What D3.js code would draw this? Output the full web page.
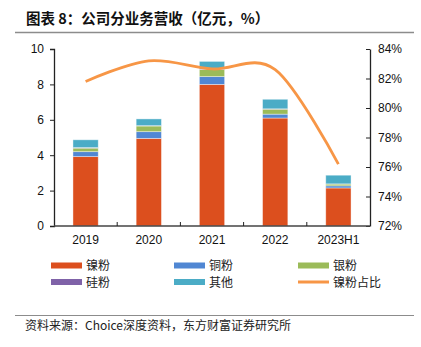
<!DOCTYPE html>
<html>
<head>
<meta charset="utf-8">
<script src="https://cdn.jsdelivr.net/npm/d3@7"></script>
<style>
  body { margin: 0; background: #fff; }
  text { font-family: "Liberation Sans", Arial, sans-serif; }
  .cjk { font-family: "Noto Sans CJK SC", sans-serif; }
</style>
</head>
<body>
<div id="chart"></div>
<script>
// data
var years = ['2019', '2020', '2021', '2022', '2023H1'];
var nickel = [3.92, 4.95, 8.00, 6.10, 2.15];
var copper = [0.28, 0.38, 0.44, 0.22, 0.12];
var silver = [0.20, 0.32, 0.40, 0.28, 0.10];
var silicon = [0.03, 0.02, 0.03, 0.02, 0.01];
var other = [0.44, 0.38, 0.43, 0.54, 0.49];
var nickelShare = [81.8, 83.2, 82.65, 82.6, 76.2];

var leftTicks = [0, 2, 4, 6, 8, 10];
var rightTicks = [72, 74, 76, 78, 80, 82, 84];

var seriesNames = ['镍粉', '铜粉', '银粉', '硅粉', '其他'];
var seriesData = [nickel, copper, silver, silicon, other];
var colors = ['#DC4F1E', '#5087D3', '#9BBB59', '#7F62A8', '#4BACC6'];
var lineColor = '#F79646';

var W = 421, H = 347;
var svg = d3.select('#chart').append('svg')
	.attr('width', W)
	.attr('height', H);

// title + rules
svg.append('text')
	.attr('class', 'cjk')
	.attr('x', 26).attr('y', 24)
	.style('font-size', '14.5px')
	.style('font-weight', 'bold')
	.attr('fill', '#111')
	.text('图表 8：公司分业务营收（亿元，%）');
svg.append('line')
	.attr('x1', 15).attr('x2', 414).attr('y1', 32.5).attr('y2', 32.5)
	.attr('stroke', '#8c8c8c').attr('stroke-width', 1.5);

// plot box (top is a window property, so use other names)
var pLeft = 54, pRight = 370, pTop = 49, pBottom = 226;

var x = d3.scaleBand().domain(years).range([pLeft, pRight]).paddingInner(0.6).paddingOuter(0.3);
var xb = d3.scaleBand().domain(years).range([pLeft, pRight]);
var y = d3.scaleLinear().domain([0, 10]).range([pBottom, pTop]);
var y2 = d3.scaleLinear().domain([72, 84]).range([pBottom, pTop]);

// stacked bars
var rows = years.map(function(yr, i) {
	var r = { year: yr };
	seriesNames.forEach(function(n, k) { r[n] = seriesData[k][i]; });
	return r;
});
var stacked = d3.stack().keys(seriesNames)(rows);

svg.selectAll('g.layer')
	.data(stacked)
	.enter()
	.append('g')
	.attr('class', 'layer')
	.attr('fill', function(d, i) { return colors[i]; })
	.selectAll('rect')
	.data(function(d) { return d; })
	.enter()
	.append('rect')
	.attr('x', function(d) { return x(d.data.year); })
	.attr('width', x.bandwidth())
	.attr('y', function(d) { return y(d[1]); })
	.attr('height', function(d) { return y(d[0]) - y(d[1]); })
	.attr('stroke', '#ffffff')
	.attr('stroke-opacity', 0.5)
	.attr('stroke-width', 0.8);

// left axis
var yAxis = svg.append('g')
	.attr('transform', 'translate(' + pLeft + ',0)')
	.call(d3.axisLeft(y).tickValues(leftTicks).tickSize(4).tickPadding(6));
yAxis.select('.domain').attr('stroke', '#222').attr('stroke-width', 1.3);
yAxis.selectAll('.tick line').attr('stroke', '#222');
yAxis.selectAll('text').style('font-size', '12px').attr('fill', '#111');

// right axis
var yAxis2 = svg.append('g')
	.attr('transform', 'translate(' + pRight + ',0)')
	.call(d3.axisRight(y2).tickValues(rightTicks).tickSizeInner(-4).tickSizeOuter(0).tickPadding(8)
		.tickFormat(function(d) { return d + '%'; }));
yAxis2.select('.domain').attr('stroke', '#222').attr('stroke-width', 1.3);
yAxis2.selectAll('.tick line').attr('stroke', '#222');
yAxis2.selectAll('text').style('font-size', '12px').attr('fill', '#111');

// bottom axis, ticks at category boundaries pointing up
svg.append('line')
	.attr('x1', pLeft).attr('x2', pRight).attr('y1', pBottom).attr('y2', pBottom)
	.attr('stroke', '#444').attr('stroke-width', 1.6);
svg.selectAll('line.xtick')
	.data(years.slice(1))
	.enter()
	.append('line')
	.attr('class', 'xtick')
	.attr('x1', function(d) { return xb(d); })
	.attr('x2', function(d) { return xb(d); })
	.attr('y1', pBottom).attr('y2', pBottom - 4)
	.attr('stroke', '#222');
svg.selectAll('text.xlab')
	.data(years)
	.enter()
	.append('text')
	.attr('class', 'xlab')
	.attr('x', function(d) { return x(d) + x.bandwidth() / 2; })
	.attr('y', 244)
	.attr('text-anchor', 'middle')
	.style('font-size', '12px')
	.attr('fill', '#111')
	.text(function(d) { return d; });

// share line
var line = d3.line()
	.x(function(d, i) { return x(years[i]) + x.bandwidth() / 2; })
	.y(function(d) { return y2(d); })
	.curve(d3.curveCatmullRom.alpha(0));
svg.append('path')
	.datum(nickelShare)
	.attr('d', line)
	.attr('fill', 'none')
	.attr('stroke', lineColor)
	.attr('stroke-width', 2.8);

// legend
var legendItems = seriesNames.concat(['镍粉占比']);
var legColX = [51, 174, 298];
var legRowY = [265.5, 282];
var leg = svg.selectAll('g.leg')
	.data(legendItems)
	.enter()
	.append('g')
	.attr('class', 'leg')
	.attr('transform', function(d, i) {
		return 'translate(' + legColX[i % 3] + ',' + legRowY[Math.floor(i / 3)] + ')';
	});
leg.append('rect')
	.attr('x', 0)
	.attr('y', function(d, i) { return i < 5 ? -3 : -1.5; })
	.attr('width', 31)
	.attr('height', function(d, i) { return i < 5 ? 6 : 3; })
	.attr('fill', function(d, i) { return i < 5 ? colors[i] : lineColor; });
leg.append('text')
	.attr('class', 'cjk')
	.attr('x', 35)
	.attr('y', 4.5)
	.style('font-size', '12px')
	.attr('fill', '#222')
	.text(function(d) { return d; });

// source
svg.append('line')
	.attr('x1', 15).attr('x2', 414).attr('y1', 315.5).attr('y2', 315.5)
	.attr('stroke', '#8c8c8c').attr('stroke-width', 1.2);
svg.append('text')
	.attr('class', 'cjk')
	.attr('x', 25).attr('y', 330)
	.style('font-size', '12px')
	.attr('fill', '#222')
	.text('资料来源：Choice深度资料，东方财富证券研究所');
</script>
</body>
</html>
